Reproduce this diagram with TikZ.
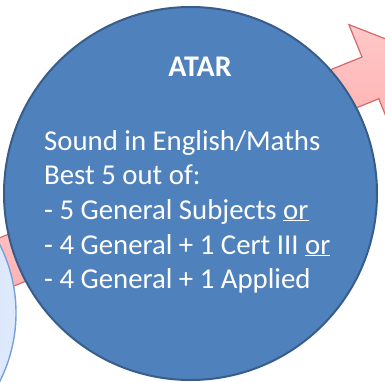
\documentclass[tikz,border=0pt]{standalone}
\usepackage{fontspec}
\setmainfont{Carlito}
\definecolor{bigfill}{RGB}{79,129,189}
\definecolor{bigedge}{RGB}{56,93,138}
\definecolor{pinkfill}{RGB}{255,172,172}
\definecolor{pinklight}{RGB}{255,200,200}
\definecolor{pinkedge}{RGB}{214,104,104}
\definecolor{lightfill}{RGB}{200,218,248}
\definecolor{lightfill2}{RGB}{222,233,252}
\definecolor{lightedge}{RGB}{120,160,218}
\begin{document}
\begin{tikzpicture}[x=1pt,y=-1pt,
  arrowshape/.style={draw=pinkedge,line width=1.2pt,top color=pinklight,bottom color=pinkfill,line join=miter},
  bigcircle/.style={circle,draw=bigedge,fill=bigfill,line width=2pt,minimum size=373pt,inner sep=0pt},
  smallcircle/.style={circle,draw=lightedge,left color=lightfill,right color=lightfill2,line width=1.4pt,minimum size=304pt,inner sep=0pt},
  txt/.style={anchor=base west,inner sep=0pt,text=white,font=\fontsize{28.8}{34}\selectfont},
  title/.style={anchor=base,inner sep=0pt,text=white,font=\fontsize{30}{34}\selectfont\bfseries}]
\useasboundingbox (0,0) rectangle (385,382);
\clip (0,0) rectangle (385,382);
\fill[white] (0,0) rectangle (385,382);
% incoming arrow (bottom-left)
\begin{scope}[shift={(6.5,262)},rotate=22]
  \path[arrowshape] (-120,-25) -- (150,-25) -- (150,25) -- (-120,25) -- cycle;
\end{scope}
% outgoing arrow (top-right)
\begin{scope}[shift={(370.4,77.9)},rotate=22]
  \path[arrowshape] (-150,-22.5) -- (0,-22.5) -- (0,-57.5) -- (61,0) -- (0,57.5) -- (0,22.5) -- (-150,22.5) -- cycle;
\end{scope}
\node[smallcircle] (prev) at (-136,313) {};
\node[bigcircle] (atar) at (190.5,193.5) {};
\node[title] (t0) at (200,77) {ATAR};
\node[txt] (l1) at (44,150) {Sound in English/Maths};
\node[txt] (l2) at (44,185) {Best 5 out of:};
\node[txt] (l3) at (44,219) {- 5 General Subjects \underline{or}};
\node[txt] (l4) at (44,254) {- 4 General + 1 Cert III \underline{or}};
\node[txt] (l5) at (44,288) {- 4 General + 1 Applied};
\end{tikzpicture}
\end{document}
